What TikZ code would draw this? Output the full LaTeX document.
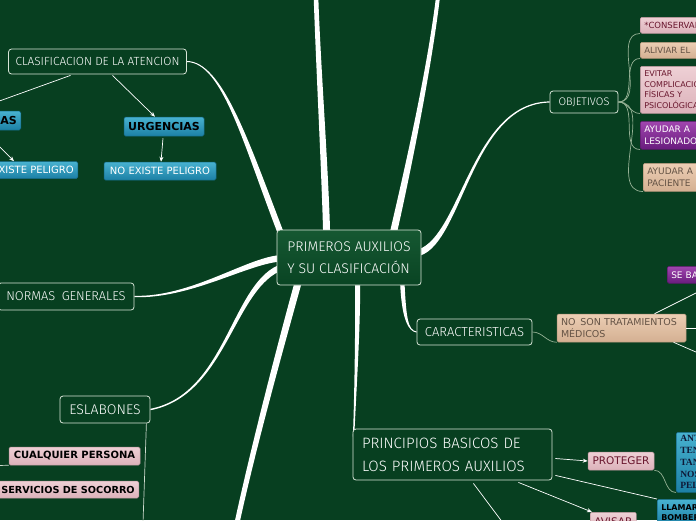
\documentclass[tikz,border=0pt]{standalone}
\usepackage{fontspec}
\setmainfont{DejaVu Sans}
\newfontfamily\handfont{Fira Sans}[UprightFont=* Light]
\newfontfamily\serifbox{Liberation Serif}
\usetikzlibrary{arrows.meta, positioning, calc, backgrounds}
\definecolor{mapGround}{RGB}{7,63,32}
\definecolor{mapTopic}{RGB}{9,68,35}
\definecolor{mapTopicTop}{RGB}{22,88,50}
\definecolor{mapEdge}{RGB}{215,228,215}
\definecolor{mapLink}{RGB}{150,178,150}
\definecolor{mapPale}{RGB}{205,218,205}
\definecolor{blueTop}{RGB}{72,178,208}
\definecolor{blueBot}{RGB}{28,128,165}
\definecolor{blueEdge}{RGB}{22,105,135}
\definecolor{pinkTop}{RGB}{238,208,213}
\definecolor{pinkBot}{RGB}{220,178,186}
\definecolor{pinkEdge}{RGB}{190,150,158}
\definecolor{pinkInk}{RGB}{105,22,45}
\definecolor{tanTop}{RGB}{236,206,180}
\definecolor{tanBot}{RGB}{212,176,146}
\definecolor{tanEdge}{RGB}{180,150,122}
\definecolor{tanInk}{RGB}{100,82,68}
\definecolor{purpleTop}{RGB}{160,70,175}
\definecolor{purpleBot}{RGB}{105,28,125}
\definecolor{purpleEdge}{RGB}{90,25,105}
\definecolor{serifInk}{RGB}{15,25,55}
\newcommand\handsize[2]{\handfont\fontsize{#1}{#2}\selectfont}
\newcommand\leafsize[2]{\fontsize{#1}{#2}\selectfont}
\tikzset{
  % the dark boxes with white outline
  topic/.style={draw=mapEdge, fill=mapGround, rounded corners=3pt, line width=0.8pt,
                text=white, align=left, inner xsep=7pt, inner ysep=3pt},
  % small coloured boxes
  leaf/.style={rounded corners=1.5pt, line width=0.5pt, align=left,
               inner xsep=4pt, inner ysep=2pt},
  bluebox/.style={leaf, top color=blueTop, bottom color=blueBot, draw=blueEdge, text=black},
  pinkbox/.style={leaf, top color=pinkTop, bottom color=pinkBot, draw=pinkEdge, text=pinkInk},
  tanbox/.style={leaf, top color=tanTop, bottom color=tanBot, draw=tanEdge, text=tanInk},
  purplebox/.style={leaf, top color=purpleTop, bottom color=purpleBot, draw=purpleEdge, text=white},
  % connectors
  branch/.style={fill=white},
  link/.style={draw=mapLink, line width=0.7pt},
  pale/.style={draw=mapPale, line width=0.7pt},
  wire/.style={draw=white, line width=0.7pt},
  pointer/.style={wire, -{Stealth[length=5pt,width=4pt]}},
}
% a white branch that narrows from #5 to #6 (half widths)
\newcommand\taper[6]{%
  \fill[branch] ($(#1)!#5!90:(#2)$)
    .. controls ($(#2)!#5!-90:(#1)$) and ($(#3)!#6!90:(#4)$) .. ($(#4)!#6!-90:(#3)$)
    -- ($(#4)!#6!90:(#3)$)
    .. controls ($(#3)!#6!-90:(#4)$) and ($(#2)!#5!90:(#1)$) .. ($(#1)!#5!-90:(#2)$)
    -- cycle;}
\begin{document}
\begin{tikzpicture}[x=1pt, y=-1pt]
\useasboundingbox (0,0) rectangle (696,520);

% ------------------------------- central topic -----------------------------
\node[topic, top color=mapTopicTop, bottom color=mapTopic, minimum width=144pt,
      minimum height=55pt, font=\handsize{14}{22}] (ctr) at (349,257.5)
      {PRIMEROS AUXILIOS\\Y SU CLASIFICACIÓN};

% ------------------------------- main topics -------------------------------
\node[topic, minimum width=177pt, minimum height=25pt, font=\handsize{11.8}{13}] (clas) at (97.5,61.5)
      {CLASIFICACION DE LA ATENCION};
\node[topic, minimum width=68pt, minimum height=22pt, font=\handsize{11}{12}] (obj) at (584,102)
      {OBJETIVOS};
\node[topic, minimum width=136pt, minimum height=27pt, font=\handsize{12.8}{14}] (normas) at (66,296.5)
      {NORMAS\enspace GENERALES};
\node[topic, minimum width=90pt, minimum height=27pt, font=\handsize{14}{15}] (esl) at (105,409.5)
      {ESLABONES};
\node[topic, minimum width=115pt, minimum height=26pt, font=\handsize{13}{14}] (car) at (474.5,332)
      {CARACTERISTICAS};
\node[topic, text width=181pt, inner xsep=9pt, minimum height=51pt, font=\handsize{15}{23}] (pri) at (452.5,454.5)
      {PRINCIPIOS BASICOS DE\\LOS PRIMEROS AUXILIOS};

% ------------------------------- clasificacion -----------------------------
\node[bluebox, anchor=east, minimum height=19pt, font=\bfseries\leafsize{11}{13}] (emerg) at (21,120.5)
      {EMERGENCIAS};
\node[bluebox, minimum width=80pt, minimum height=19pt, font=\bfseries\leafsize{11}{13}] (urg) at (164,126.5)
      {URGENCIAS};
\node[bluebox, text=white, anchor=east, minimum height=17pt, font=\leafsize{10}{12}] (ep) at (78,170)
      {EXISTE PELIGRO};
\node[bluebox, text=white, minimum width=112pt, minimum height=18pt, font=\leafsize{10}{12}] (nep) at (160,171)
      {NO EXISTE PELIGRO};

% ------------------------------- objetivos ---------------------------------
\node[pinkbox, anchor=north west, text width=140pt, minimum height=16pt, font=\leafsize{8.5}{10}] (conserv) at (640,17)
      {*CONSERVAR};
\node[tanbox, anchor=north west, text width=140pt, minimum height=16pt, font=\leafsize{8.5}{10}] (alivio) at (640,42)
      {ALIVIAR EL};
\node[pinkbox, anchor=north west, text width=140pt, minimum height=47pt, font=\leafsize{8}{10.7}] (evitar) at (640,66)
      {EVITAR\\COMPLICACIONES\\FÍSICAS Y\\PSICOLÓGICAS};
\node[purplebox, anchor=north west, text width=140pt, minimum height=28pt, font=\leafsize{9}{12}] (lesion) at (640,121)
      {AYUDAR A\\LESIONADO};
\node[tanbox, anchor=north west, text width=140pt, minimum height=28pt, font=\leafsize{9}{11.5}] (paciente) at (643,163)
      {AYUDAR A\\PACIENTE};

% ------------------------------- caracteristicas ---------------------------
\node[tanbox, text width=121pt, minimum height=28pt, font=\leafsize{9.5}{12}] (noson) at (621.5,328)
      {NO\enspace SON TRATAMIENTOS\\MÉDICOS};
\node[purplebox, anchor=north west, text width=140pt, minimum height=17pt, font=\leafsize{9}{11}] (sebasan) at (667,266)
      {SE BASAN};

% ------------------------------- eslabones ---------------------------------
\node[pinkbox, text=black, minimum width=131pt, minimum height=18pt, font=\bfseries\leafsize{10}{12}] (cual) at (74.5,456)
      {CUALQUIER PERSONA};
\node[pinkbox, text=black, anchor=east, minimum height=17pt, font=\bfseries\leafsize{9.7}{12}] (socorro) at (139,489.5)
      {SERVICIOS DE SOCORRO};

% ------------------------------- principios --------------------------------
\node[pinkbox, minimum width=66pt, minimum height=18pt, font=\leafsize{10.5}{12}] (prot) at (621,461)
      {PROTEGER};
\node[pinkbox, anchor=north west, minimum width=46pt, minimum height=18pt, font=\leafsize{10.5}{12}] (avisar) at (590,512)
      {AVISAR};
\node[bluebox, anchor=north west, text width=140pt, minimum height=60pt, text=serifInk,
      font=\serifbox\bfseries\fontsize{9.5}{11.7}\selectfont] (antes) at (676,432)
      {ANTES\\TENER\\TANTO\\NOSOTROS\\PELIGRO};
\node[bluebox, anchor=north west, text width=140pt, minimum height=26pt, font=\bfseries\leafsize{8}{10}] (llamar) at (657,499)
      {LLAMAR\\BOMBEROS};

% ------------------------------- ground and branches -----------------------
\begin{scope}[on background layer]
  \fill[mapGround] (0,0) rectangle (696,520);
  \coordinate (topA) at ($(ctr.north west)+(50,3)$);
  \coordinate (topB) at (316,-3);
  \taper{topA}{325,170}{318,60}{topB}{3.5pt}{2.3pt}
  \coordinate (riseA) at ($(ctr.north east)+(-28,3)$);
  \coordinate (riseB) at (438,-3);
  \taper{riseA}{402,195}{428,80}{riseB}{3.5pt}{2pt}
  \coordinate (clasA) at ($(ctr.north west)+(4,3)$);
  \taper{clasA}{245,140}{222,62}{clas.east}{3pt}{0.5pt}
  \coordinate (objA) at ($(ctr.east)+(-2,-5)$);
  \taper{objA}{462,238}{472,103}{obj.west}{3.2pt}{0.6pt}
  \coordinate (normA) at ($(ctr.west)+(2,1)$);
  \taper{normA}{245,262}{190,298}{normas.east}{3.2pt}{0.7pt}
  \coordinate (eslA) at ($(ctr.south west)+(2,-17)$);
  \taper{eslA}{232,290}{225,395}{esl.east}{3pt}{0.7pt}
  \coordinate (downA) at ($(ctr.south west)+(21,-1)$);
  \coordinate (downB) at (237,523);
  \taper{downA}{285,330}{255,440}{downB}{3.5pt}{2.5pt}
  \coordinate (priA) at ($(ctr.south west)+(81,-1)$);
  \coordinate (priB) at ($(pri.north west)+(1,8)$);
  \taper{priA}{358,330}{355,400}{priB}{2.5pt}{0.7pt}
  \coordinate (carA) at ($(ctr.south east)+(-19,-1)$);
  \taper{carA}{404,318}{408,331}{car.west}{2.2pt}{0.5pt}
\end{scope}

% ------------------------------- thin connectors ---------------------------
\draw[pointer] ($(clas.south)+(-27,1)$) -- (emerg.north);
\draw[pointer] ($(clas.south)+(15,1)$) -- ($(urg.north)+(-9,0)$);
\draw[pointer] ($(urg.south)+(-1,2)$) -- ($(nep.north)+(1,0)$);
\draw[pointer] ($(emerg.south)+(12,1)$) -- ($(ep.north)+(-19,0)$);

\foreach \leafname in {conserv, alivio, evitar, lesion, paciente}
  \draw[link] (obj.east) to[out=0, in=180] (\leafname.south west);

\draw[link] (car.east) to[out=0, in=180] (noson.south west);
\coordinate (nsUp) at (697,292.5);
\coordinate (nsMid) at (697,328);
\coordinate (nsLow) at (697,352.5);
\draw[wire] ($(noson.north)+(33,0)$) -- (nsUp);
\draw[wire] (noson.east) -- (nsMid);
\draw[wire] ($(noson.south)+(52,0)$) -- (nsLow);

\coordinate (eslEnd) at (143,523);
\coordinate (cualIn) at (-2,465.5);
\draw[pale] ($(esl.south east)+(-4,0)$) -- (eslEnd);
\draw[pale] (cualIn) -- (cual.south west);

\draw[pointer] ($(pri.east)+(3,4)$) -- (prot.west);
\draw[wire] ($(pri.south east)+(3,-5)$) -- (llamar.north west);
\draw[pointer] ($(pri.south east)+(-34,2)$) -- ($(avisar.north west)+(2,0)$);
\coordinate (priLow) at (503,523);
\draw[wire] ($(pri.south east)+(-79,3)$) -- (priLow);
\draw[link] (prot.south east) to[out=0, in=180] (antes.south west);

\end{tikzpicture}
\end{document}
